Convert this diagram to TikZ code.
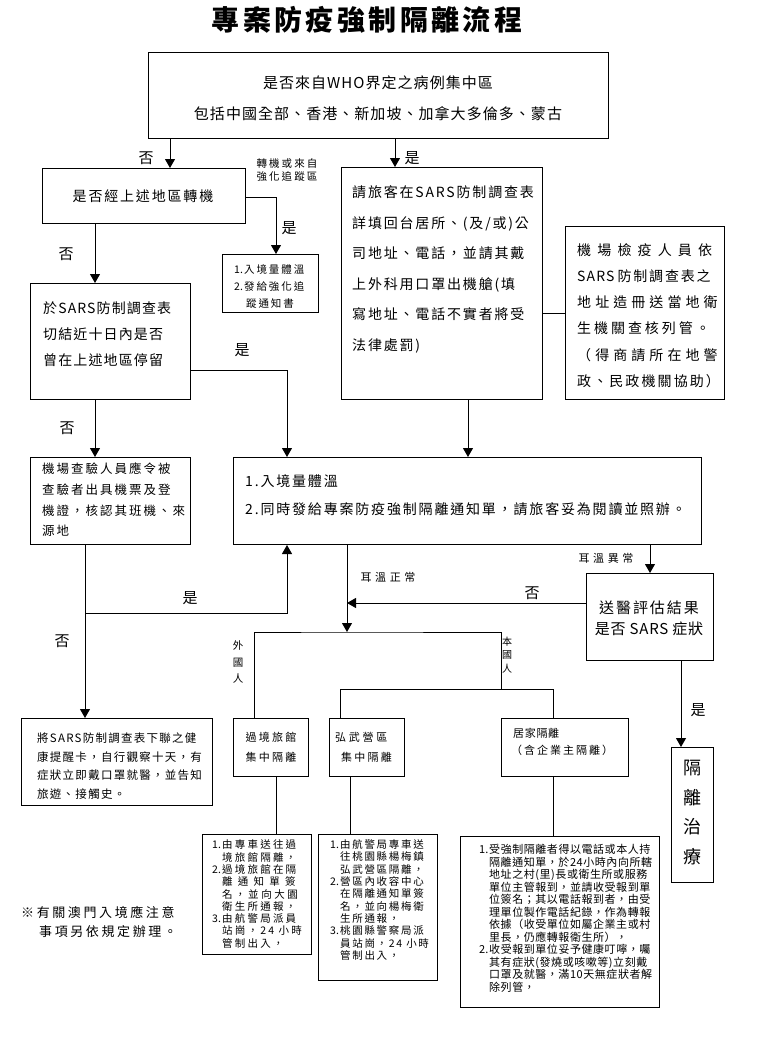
\documentclass[tikz,border=0pt]{standalone}
\usepackage{fontspec}
\setmainfont{Noto Sans CJK TC}
\usetikzlibrary{arrows.meta,calc}
\newcommand\ls[2]{{\addfontfeature{LetterSpace=#1}#2}}
\newcommand\fs[2]{\fontsize{#1}{#2}\selectfont}
\newcommand\nb[1]{\makebox[10pt][l]{#1}}
\newcommand\indt{\hspace{10pt}}
\begin{document}
\begin{tikzpicture}[x=1pt,y=-1pt,
  box/.style={draw, line width=1pt, inner sep=0pt, anchor=north west},
  ln/.style={line width=1pt},
  arr/.style={line width=1pt, -{Triangle[width=10pt,length=9pt]}},
  t/.style={inner sep=0pt, anchor=west, align=left},
  tc/.style={inner sep=0pt, anchor=center, align=center},
  lab/.style={inner sep=0pt, font=\fs{15}{15}}]
\fill[white] (0,0) rectangle (756,1041);
\useasboundingbox (0,0) rectangle (756,1041);

% title
\node[tc, font=\fs{28}{30}\bfseries] (title) at (367,20) {\ls{12}{專案防疫強制隔離流程}};

% boxes
\node[box, minimum width=460pt, minimum height=86pt] (top) at (148,52) {};
\node[box, minimum width=203pt, minimum height=55pt] (q1) at (42,168) {};
\node[box, minimum width=96pt, minimum height=58pt] (tr) at (222,254) {};
\node[box, minimum width=160pt, minimum height=116pt] (q2) at (30,283) {};
\node[box, minimum width=160pt, minimum height=87pt] (chk) at (30,457) {};
\node[box, minimum width=201pt, minimum height=232pt] (fill) at (341,167) {};
\node[box, minimum width=159pt, minimum height=173pt] (ins) at (565,226) {};
\node[box, minimum width=468pt, minimum height=87pt] (temp) at (233,457) {};
\node[box, minimum width=127pt, minimum height=87pt] (med) at (586,573) {};
\node[box, minimum width=191pt, minimum height=87pt] (card) at (21,718) {};
\node[box, minimum width=75pt, minimum height=58pt] (hotel) at (233,718) {};
\node[box, minimum width=75pt, minimum height=58pt] (camp) at (329,718) {};
\node[box, minimum width=127pt, minimum height=58pt] (home) at (501,718) {};
\node[box, minimum width=42pt, minimum height=135pt] (treat) at (671,747) {};
\node[box, minimum width=109pt, minimum height=120pt] (hd) at (202,834) {};
\node[box, minimum width=119pt, minimum height=146pt] (cd) at (318,834) {};
\node[box, minimum width=199pt, minimum height=171pt] (homed) at (460,836) {};

% texts
\node[tc, font=\fs{15}{31}] (topt) at (378,98) {\ls{7}{是否來自WHO界定之病例集中區}\\\ls{7}{包括中國全部、香港、新加坡、加拿大多倫多、蒙古}};
\node[tc, font=\fs{14}{14}] (q1t) at (143,196) {\ls{13}{是否經上述地區轉機}};
\node[tc, font=\fs{10.5}{12.5}] (trl) at (287,170) {\ls{20}{轉機或來自}\\\ls{20}{強化追蹤區}};
\node[t, font=\fs{10.5}{17}] (trt) at (234,286) {\nb{1.}\ls{18}{入境量體溫}\\\nb{2.}\ls{18}{發給強化追}\\\hspace{12pt}\ls{18}{蹤通知書}};
\node[t, font=\fs{14}{26}] (q2t) at (43,334) {\ls{8}{於SARS防制調查表}\\\ls{8}{切結近十日內是否}\\\ls{8}{曾在上述地區停留}};
\node[t, font=\fs{12.5}{20.7}] (chkt) at (42,500) {\ls{16}{機場查驗人員應令被}\\\ls{16}{查驗者出具機票及登}\\\ls{16}{機證，核認其班機、來}\\\ls{16}{源地}};
\node[t, font=\fs{14}{28}] (tempt) at (245,495.5) {\ls{13}{1.入境量體溫}\\\ls{13}{2.同時發給專案防疫強制隔離通知單，請旅客妥為閱讀並照辦。}};
\node[t, font=\fs{14}{30.6}] (fillt) at (352,269.5) {\ls{13}{請旅客在SARS防制調查表}\\\ls{13}{詳填回台居所、(及/或)公}\\\ls{13}{司地址、電話，並請其戴}\\\ls{13}{上外科用口罩出機艙(填}\\\ls{13}{寫地址、電話不實者將受}\\\ls{13}{法律處罰)}};
\node[t, font=\fs{14}{26.2}] (inst) at (577,315.5) {\ls{44}{機場檢疫人員依}\\\ls{8}{SARS} \ls{13}{防制調查表之}\\\ls{29}{地址造冊送當地衛}\\\ls{21}{生機關查核列管。}\\\ls{29}{（得商請所在地警}\\\ls{15}{政、民政機關協助）}};
\node[tc, font=\fs{15}{21}] (medt) at (649,618) {\ls{13}{送醫評估結果}\\\ls{5}{是否 SARS 症狀}};
\node[tc, font=\fs{18}{29.7}] (treatt) at (692,812.5) {隔\\離\\治\\療};
\node[t, font=\fs{11.5}{18.7}] (cardt) at (37,766) {\ls{11}{將SARS防制調查表下聯之健}\\\ls{11}{康提醒卡，自行觀察十天，有}\\\ls{11}{症狀立即戴口罩就醫，並告知}\\\ls{11}{旅遊、接觸史。}};
\node[tc, font=\fs{11}{20}] (hotelt) at (271,747) {\ls{20}{過境旅館}\\\ls{20}{集中隔離}};
\node[t, font=\fs{11}{20}] (campt) at (335,747) {\ls{25}{弘武營區}\\\hspace{6pt}\ls{20}{集中隔離}};
\node[t, font=\fs{11}{17}] (homet) at (511,741.5) {\hspace{2pt}\ls{6}{居家隔離}\\\ls{18}{（含企業主隔離）}};
\node[t, font=\fs{10.5}{12.3}] (hdt) at (212,894) {\nb{1.}\ls{21}{由專車送往過}\\\indt\ls{21}{境旅館隔離，}\\\nb{2.}\ls{21}{過境旅館在隔}\\\indt\ls{50}{離通知單簽}\\\indt\ls{24}{名，並向大園}\\\indt\ls{21}{衛生所通報，}\\\nb{3.}\ls{21}{由航警局派員}\\\indt\ls{21}{站崗，24 小時}\\\indt\ls{21}{管制出入，}};
\node[t, font=\fs{10.5}{12.3}] (cdt) at (330,900) {\nb{1.}\ls{16}{由航警局專車送}\\\indt\ls{16}{往桃園縣楊梅鎮}\\\indt\ls{16}{弘武營區隔離，}\\\nb{2.}\ls{16}{營區內收容中心}\\\indt\ls{16}{在隔離通知單簽}\\\indt\ls{16}{名，並向楊梅衛}\\\indt\ls{16}{生所通報，}\\\nb{3.}\ls{16}{桃園縣警察局派}\\\indt\ls{16}{員站崗，24 小時}\\\indt\ls{16}{管制出入，}};
\node[t, font=\fs{11}{12.5}] (homedt) at (479,918.4) {\nb{1.}\ls{5}{受強制隔離者得以電話或本人持}\\\indt\ls{5}{隔離通知單，於24小時內向所轄}\\\indt\ls{5}{地址之村(里)長或衛生所或服務}\\\indt\ls{5}{單位主管報到，並請收受報到單}\\\indt\ls{5}{位簽名；其以電話報到者，由受}\\\indt\ls{5}{理單位製作電話紀錄，作為轉報}\\\indt\ls{5}{依據（收受單位如屬企業主或村}\\\indt\ls{5}{里長，仍應轉報衛生所），}\\\nb{2.}\ls{5}{收受報到單位妥予健康叮嚀，囑}\\\indt\ls{5}{其有症狀(發燒或咳嗽等)立刻戴}\\\indt\ls{5}{口罩及就醫，滿10天無症狀者解}\\\indt\ls{5}{除列管，}};
\node[t, font=\fs{13}{19}] (note) at (21,921.5) {\ls{20}{※有關澳門入境應注意}\\\hspace{18pt}\ls{20}{事項另依規定辦理。}};

% labels
\node[lab] (l1) at (146,158) {否};
\node[lab] (l2) at (412,158) {是};
\node[lab] (l3) at (289,228) {是};
\node[lab] (l4) at (66,254) {否};
\node[lab] (l5) at (242,350) {是};
\node[lab] (l6) at (67,428) {否};
\node[lab] (l7) at (190,598) {是};
\node[lab] (l8) at (62,641) {否};
\node[lab] (l9) at (532,593) {否};
\node[lab] (l10) at (698,710) {是};
\node[tc, font=\fs{11}{11}] (l11) at (388,577) {\ls{33}{耳溫正常}};
\node[tc, font=\fs{11}{11}] (l12) at (606,558) {\ls{33}{耳溫異常}};
\node[tc, font=\fs{10.5}{16.5}] (fgn) at (238,662) {外\\國\\人};
\node[tc, font=\fs{10}{13.3}] (loc) at (507,655) {本\\國\\人};

% connectors
\coordinate (a1) at ($(top.south west)+(22,0)$);
\draw[arr] (a1) -- (a1 |- q1.north);
\coordinate (a2) at ($(top.south west)+(247,0)$);
\draw[arr] (a2) -- (a2 |- fill.north);
\coordinate (a3) at ($(q1.north east)+(0,29)$);
\coordinate (a3b) at ($(tr.north west)+(54,0)$);
\draw[arr] (a3) -| (a3b);
\coordinate (a4) at ($(q1.south west)+(53,0)$);
\draw[arr] (a4) -- (a4 |- q2.north);
\draw[arr] (a4 |- q2.south) -- (a4 |- chk.north);
\coordinate (a5) at ($(q2.north east)+(0,87)$);
\coordinate (a7) at ($(temp.north west)+(54,0)$);
\draw[arr] (a5) -| (a7);
\coordinate (a6) at ($(fill.south west)+(127,0)$);
\draw[arr] (a6) -- (a6 |- temp.north);
\coordinate (a8) at ($(ins.north west)+(0,87)$);
\draw[ln] (a8) -- (a8 -| fill.east);
\coordinate (a9) at ($(chk.south west)+(55,0)$);
\draw[arr] (a9) -- (a9 |- card.north);
\coordinate (a10) at ($(a9)+(0,68)$);
\draw[arr] (a10) -| (a7 |- temp.south);
\coordinate (a11) at ($(temp.south west)+(114,0)$);
\coordinate (br) at ($(a11)+(0,87)$);
\draw[arr] (a11) -- (br);
\coordinate (bl) at ($(hotel.north west)+(21,0)$);
\coordinate (b2) at ($(home.north west)+(0,-29)$);
\draw[ln] (bl) |- (br) -| (b2);
\coordinate (cL) at ($(camp.north west)+(11,0)$);
\coordinate (hL) at ($(home.north west)+(52,0)$);
\draw[ln] (cL) -- (cL |- b2) -- (hL |- b2) -- (hL);
\coordinate (a12) at ($(temp.south west)+(417,0)$);
\draw[arr] (a12) -- (a12 |- med.north);
\coordinate (a13) at ($(med.north west)+(0,30)$);
\draw[arr] (a13) -- (a13 -| br);
\coordinate (a14) at ($(med.south west)+(95,0)$);
\draw[arr] (a14) -- (a14 |- treat.north);
\coordinate (a15) at ($(hotel.south west)+(43,0)$);
\draw[ln] (a15) -- (a15 |- hd.north);
\coordinate (a16) at ($(camp.south west)+(21,0)$);
\draw[ln] (a16) -- (a16 |- cd.north);
\draw[ln] (hL |- home.south) -- (hL |- homed.north);
\end{tikzpicture}
\end{document}
